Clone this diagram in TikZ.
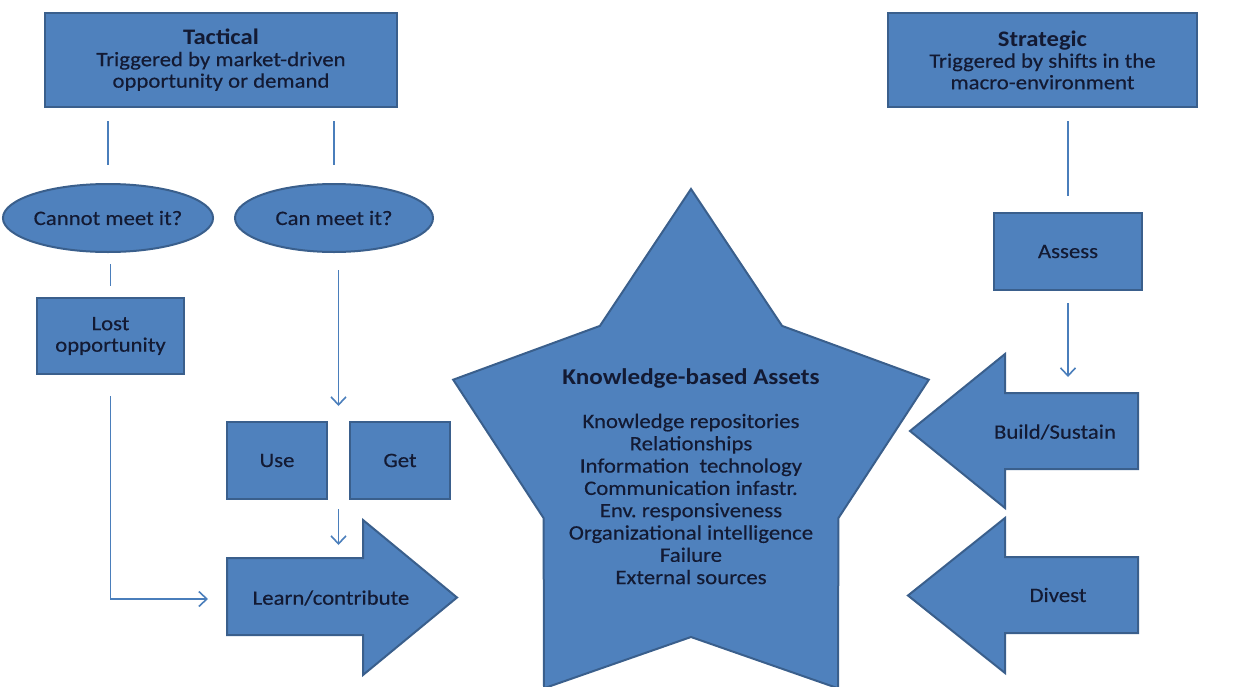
\documentclass[tikz,border=0pt]{standalone}
\usepackage{fontspec}
\setmainfont{Carlito}[FakeStretch=1.11, UprightFeatures={FakeBold=0.35}]
\usetikzlibrary{arrows.meta,shapes.geometric,calc}
\definecolor{blu}{HTML}{4F81BD}
\definecolor{bord}{HTML}{3A5F8C}
\definecolor{lin}{HTML}{4A7EBB}
\definecolor{ink}{HTML}{131A33}
\newcommand{\txtsize}{\fontsize{20.5}{21.5}\selectfont\frenchspacing}
\newcommand{\headtxt}[1]{{\fontsize{22.2}{21.5}\selectfont\bfseries #1}}
\tikzset{
  shapefill/.style={fill=blu, draw=bord, line width=2pt, line join=miter},
  box/.style={shapefill, inner sep=0pt, text=ink, align=center, font=\txtsize},
  oval/.style={box, ellipse},
  lbl/.style={text=ink, align=center, inner sep=0pt, font=\txtsize},
  conn/.style={draw=lin, line width=1.6pt},
  arr/.style={conn, -{Straight Barb[length=8pt,width=15pt,line width=1.6pt]}},
}
\begin{document}
\begin{tikzpicture}[x=1pt,y=-1pt]
\useasboundingbox (0,0) rectangle (1240,686);

% central star
\draw[shapefill] (691,189) -- (782.1,325.9) -- (928.8,379.7) -- (838.4,518.1)
  -- (838,688.3) -- (691,637) -- (544,688.3) -- (543.6,518.1) -- (453.2,379.7)
  -- (599.9,325.9) -- cycle;
\node[lbl, font=\fontsize{22.6}{22}\selectfont\bfseries] (kbatitle) at (691,378) {Knowledge-based Assets};
\node[lbl, font=\fontsize{20.5}{22.3}\selectfont\frenchspacing] (kbalist) at (691,499)
  {Knowledge repositories\\Relationships\\Information\ \ technology\\Communication infastr.\\Env. responsiveness\\Organizational intelligence\\Failure\\External sources};

% block arrows
\draw[shapefill] (227,558) -- (363,558) -- (363,520) -- (457,597.5) -- (363,675)
  -- (363,635) -- (227,635) -- cycle;
\node[lbl] (learn) at (331,598) {Learn/contribute};
\coordinate (learnin) at (227,599);
\coordinate (learntop) at (337,558);

\draw[shapefill] (1138,393) -- (1005,393) -- (1005,354) -- (910,431) -- (1005,508)
  -- (1005,469) -- (1138,469) -- cycle;
\node[lbl] (build) at (1055,432) {Build/Sustain};
\coordinate (buildtop) at (1066,393);

\draw[shapefill] (1138,557) -- (1005,557) -- (1005,518) -- (908,595.5) -- (1005,673)
  -- (1005,633) -- (1138,633) -- cycle;
\node[lbl] (divest) at (1058,595) {Divest};

% boxes and ovals
\node[box, minimum width=352pt, minimum height=94pt] (tac) at (221,60)
  {\headtxt{Tactical}\\Triggered by market-driven\\opportunity or demand};
\node[box, minimum width=309pt, minimum height=94pt] (strat) at (1042.5,60)
  {\headtxt{Strategic}\\Triggered by shifts in the\\macro-environment};
\node[oval, minimum width=200pt, minimum height=68pt] (cannot) at (108,218) {Cannot meet it?};
\node[oval, minimum width=198pt, minimum height=68pt] (can) at (334,218) {Can meet it?};
\node[box, minimum width=147pt, minimum height=76pt] (lost) at (110.5,336) {Lost\\opportunity};
\node[box, minimum width=100pt, minimum height=77pt] (use) at (277,460.5) {Use};
\node[box, minimum width=100pt, minimum height=77pt] (get) at (400,460.5) {Get};
\node[box, minimum width=148pt, minimum height=77pt] (assess) at (1068,251.5) {Assess};

\coordinate (ugtop) at ($(use.north east)!0.5!(get.north west)$);
\coordinate (ugbot) at ($(use.south east)!0.5!(get.south west)$);

% connectors
\draw[conn, shorten <=13pt, shorten >=18pt] (tac.south -| cannot) -- (cannot.north);
\draw[conn, shorten <=13pt, shorten >=18pt] (tac.south -| can) -- (can.north);
\draw[conn, shorten <=11pt, shorten >=11pt] (cannot.south -| lost) -- (lost.north);
\draw[arr, shorten <=17pt, shorten >=15pt] (ugtop |- can.south) -- (ugtop);
\draw[arr, shorten <=9pt, shorten >=13pt] (ugbot) -- (ugbot |- learntop);
\draw[arr, shorten <=21pt, shorten >=19pt] (lost.south) |- (learnin);
\draw[conn, shorten <=13pt, shorten >=16pt] (strat.south -| assess) -- (assess.north);
\draw[arr, shorten <=12pt, shorten >=16pt] (assess.south) -- (assess.south |- buildtop);
\end{tikzpicture}
\end{document}
